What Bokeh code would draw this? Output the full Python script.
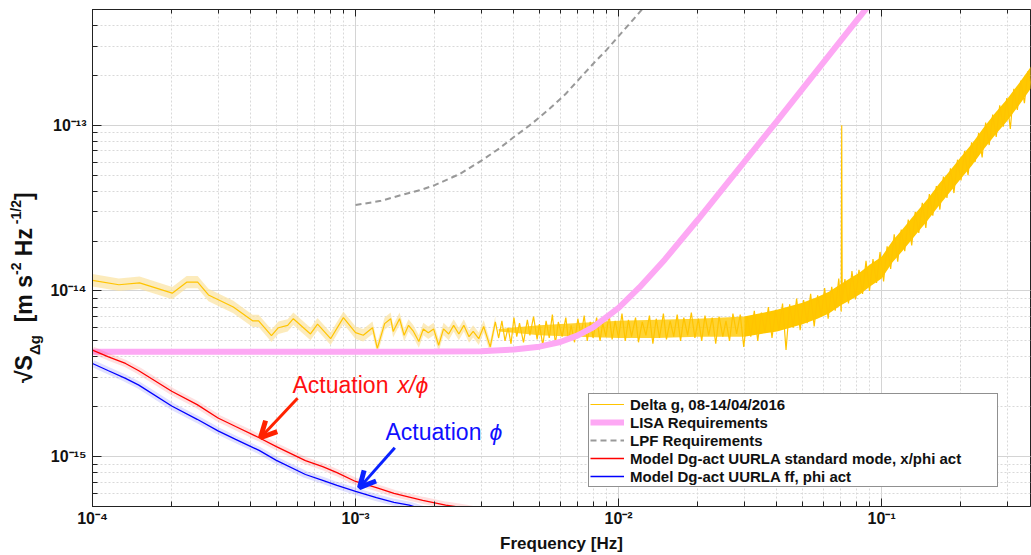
import numpy as np
from bokeh.plotting import figure
from bokeh.layouts import row
from bokeh.models import (FixedTicker, LogAxis, Label, Arrow, OpenHead, Legend, Div,
                          LegendItem, Range1d, CustomJSTickFormatter)
from bokeh.embed import file_html
from bokeh.resources import INLINE

FONT = "Liberation Sans"

# ---------------- data ----------------
# Delta g ASD: frequency in mHz, value in 1e-15 m s^-2 Hz^-1/2
dg_f_mHz = [0.100, 0.126, 0.151, 0.201, 0.228, 0.251, 0.276, 0.343, 0.406, 0.428,
            0.479, 0.509, 0.552, 0.580, 0.674, 0.717, 0.804, 0.899, 1.00, 1.07,
            1.16, 1.21, 1.29, 1.36, 1.39, 1.47, 1.53, 1.59, 1.66, 1.74,
            1.81, 1.89, 1.98, 2.07, 2.16, 2.26, 2.36, 2.47, 2.58, 2.70,
            2.80, 2.94, 3.07, 3.25, 3.40,
            3.5, 3.6, 3.7, 3.8, 3.9, 4.0, 4.1, 4.2, 4.35, 4.5,
            4.6, 4.75, 4.9, 5.0, 5.15, 5.3, 5.45, 5.6, 5.75, 5.9,
            6.1, 6.3, 6.45, 6.6, 6.8, 7.0, 7.2, 7.4, 7.6, 7.8,
            8.0, 8.25, 8.5, 8.7, 8.95, 9.2, 9.45, 9.7, 10.0, 10.3,
            10.6, 10.9, 11.2, 11.6, 11.9, 12.3, 12.7, 13.1, 13.5, 13.9,
            14.3, 14.8, 15.2, 15.7, 16.2, 16.7, 17.2, 17.7, 18.3, 18.9,
            19.5, 20.1, 20.7, 21.3, 22.0, 22.7, 23.4, 24.1, 24.9, 25.6,
            26.4, 27.2, 28.1, 29.0, 29.9, 30.8, 31.8, 32.8, 33.8, 34.9,
            36.0, 37.1, 38.3, 39.5, 40.7, 42.0, 43.3, 44.7, 46.1, 47.5,
            49.0, 50.5, 52.1, 53.7, 55.4, 57.1, 58.9, 60.7, 62.6, 64.6,
            66.6, 68.7, 70.2, 70.5, 70.8, 72.5, 74.8, 77.1, 79.5, 82.0,
            84.6, 87.2, 89.9, 92.7, 95.6, 98.6, 101.7, 104.9, 108.2, 111.6,
            115.1, 118.7, 122.4, 126.2, 130.1, 134.2, 138.4, 142.7, 147.2, 151.8,
            156.5, 161.4, 166.5, 171.7, 177.1, 182.6, 188.3, 194.2, 200.3, 206.6,
            213.0, 219.7, 226.6, 233.7, 241.0, 248.5, 256.3, 264.3, 272.6, 281.1,
            289.9, 299.0, 308.4, 318.0, 328.0, 338.3, 348.9, 359.8, 371.0]
dg_val = [11.6, 10.9, 11.2, 9.7, 11.3, 11.3, 9.46, 8.0, 6.6, 6.6,
          5.37, 6.0, 6.2, 6.8, 5.5, 6.3, 5.15, 6.9, 5.6, 5.4,
          6.0, 4.5, 6.35, 6.8, 5.7, 6.8, 5.4, 6.2, 5.7, 4.95,
          5.9, 5.6, 5.9, 4.7, 5.9, 5.5, 6.2, 5.5, 6.2, 5.3,
          5.7, 5.15, 6.1, 4.6, 6.5,
          5.2, 6.6, 5.0, 6.0, 4.8, 6.9, 5.3, 6.4, 4.9, 6.7,
          5.4, 7.0, 5.1, 6.3, 4.7, 6.6, 5.2, 7.2, 4.8, 6.5,
          5.3, 6.9, 5.0, 6.2, 4.9, 6.8, 5.4, 7.1, 5.0, 6.5,
          5.2, 6.9, 5.0, 6.4, 5.3, 7.2, 5.1, 6.6, 5.2, 7.3,
          5.0, 6.7, 5.3, 6.9, 4.9, 6.5, 5.4, 7.1, 4.8, 6.8,
          5.2, 7.3, 5.1, 6.6, 5.3, 7.2, 5.0, 6.9, 5.4, 7.4,
          5.2, 6.8, 5.0, 7.1, 5.4, 6.9, 4.8, 7.0, 5.3, 6.6,
          5.0, 7.3, 5.5, 7.2, 4.6, 7.0, 5.3, 7.6, 5.0, 7.4,
          5.6, 8.0, 5.2, 7.7, 5.8, 8.4, 4.4, 8.3, 6.0, 9.0,
          5.8, 8.8, 6.4, 9.6, 6.1, 9.4, 7.0, 10.4, 6.8, 10.6,
          7.6, 11.9, 7.5, 100.0, 8.6, 11.8, 8.4, 13.2, 8.9, 13.4,
          9.6, 15.2, 10.0, 15.6, 11.2, 17.2, 11.4, 18.6, 13.6, 22.0,
          15.0, 23.5, 17.4, 27.0, 18.8, 30.0, 22.4, 34.0, 24.0, 38.5,
          28.5, 43.0, 31.0, 49.0, 36.5, 55.0, 39.0, 62.0, 46.5, 70.0,
          50.0, 79.0, 60.0, 90.0, 64.0, 104.0, 76.0, 116.0, 85.0, 132.0,
          98.0, 146.0, 95.0, 166.0, 124.0, 186.0, 136.0, 212.0, 172.0]

# envelope of the dense noise band (mHz, 1e-15)
env_f_mHz = [3.5, 5, 7, 10, 14, 20, 30, 40, 50, 57, 63, 70, 77, 83, 90, 100,
             110, 120, 137, 150, 165, 183, 200, 220, 244, 270, 300, 335, 372]
env_lo = [5.7, 5.4, 5.3, 5.2, 5.2, 5.3, 5.3, 5.7, 6.3, 6.8, 7.3, 8.2, 8.9, 9.6, 10.6, 11.9,
          14.9, 17.4, 22.5, 26.8, 32.7, 40.0, 47.6, 57.0, 71.4, 87.5, 106.0, 134.0, 170.0]
env_hi = [5.9, 6.2, 6.4, 6.6, 6.7, 6.8, 7.0, 7.7, 8.5, 9.2, 9.9, 11.0, 12.1, 13.0, 14.4, 16.1,
          20.1, 23.6, 30.5, 36.2, 44.3, 54.0, 64.4, 77.0, 96.6, 118.5, 144.0, 182.0, 230.0]

# LISA requirements (Hz, 1e-15)
lisa_f = [1e-4, 1e-3, 2e-3, 3e-3, 4e-3, 5e-3, 6e-3, 7e-3, 8e-3, 1e-2, 1.2e-2, 1.5e-2,
          2e-2, 3e-2, 4e-2, 6e-2, 8e-2, 1e-1]
lisa_val = [4.3, 4.3, 4.31, 4.33, 4.43, 4.61, 4.92, 5.39, 6.04, 7.9, 10.5, 15.5,
            26.9, 59.9, 106.0, 239.0, 425.0, 660.0]

# LPF requirements (Hz, 1e-14)
lpf_f = [1e-3, 1.25e-3, 1.5e-3, 1.75e-3, 2e-3, 2.5e-3, 3e-3, 3.5e-3, 4e-3, 4.67e-3,
         5.5e-3, 6.3e-3, 7.16e-3, 8.2e-3, 9e-3, 1e-2, 1.1e-2, 1.2e-2, 1.3e-2]
lpf_val = [3.3, 3.5, 3.8, 4.05, 4.35, 5.1, 6.1, 7.2, 8.5, 10.2,
           12.7, 15.5, 19.4, 24.5, 28.5, 34.5, 41.0, 48.0, 56.0]

# Actuation models (Hz, 1e-15)
model_f = [1e-4, 1.15e-4, 1.335e-4, 1.5e-4, 2e-4, 2.5e-4, 3e-4, 3.5e-4, 4.3e-4, 5e-4,
           6.45e-4, 7.5e-4, 8.5e-4, 1e-3, 1.2e-3, 1.4e-3, 1.6e-3, 1.8e-3, 2.2e-3, 2.6e-3, 3e-3]
red_val = [4.4, 4.0, 3.65, 3.3, 2.48, 2.06, 1.71, 1.52, 1.30, 1.15,
           0.946, 0.87, 0.80, 0.708, 0.65, 0.60, 0.57, 0.545, 0.51, 0.49, 0.47]
blue_val = [3.65, 3.3, 2.97, 2.7, 2.02, 1.68, 1.43, 1.27, 1.09, 0.95,
            0.78, 0.72, 0.67, 0.617, 0.565, 0.53, 0.51, 0.48, 0.45, 0.43, 0.41]

x_major = [1e-4, 1e-3, 1e-2, 1e-1]
x_labels = ["10\u207b\u2074", "10\u207b\u00b3", "10\u207b\u00b2", "10\u207b\u00b9"]
y_major = [1e-15, 1e-14, 1e-13]
y_labels = ["10\u207b\u00b9\u2075", "10\u207b\u00b9\u2074", "10\u207b\u00b9\u00b3"]
x_minor = [m * d for d in [1e-4, 1e-3, 1e-2, 1e-1] for m in range(1, 10)]
y_minor = [m * d for d in [1e-16, 1e-15, 1e-14, 1e-13] for m in range(1, 10)]

legend_labels = ["Delta g, 08-14/04/2016", "LISA Requirements", "LPF Requirements",
                 "Model Dg-act UURLA standard mode, x/phi act", "Model Dg-act UURLA ff, phi act"]

LEFT_W = 34          # width of the html column holding the rotated y label
FRAME_LEFT = 92      # frame left edge in the page

# ---------------- figure ----------------
p = figure(width=1031 - LEFT_W, height=555, x_axis_type="log", y_axis_type="log",
           x_range=Range1d(1e-4, 0.368), y_range=Range1d(5e-16, 5e-13),
           output_backend="svg", toolbar_location=None,
           min_border_left=FRAME_LEFT - LEFT_W, min_border_right=1, min_border_top=9,
           min_border_bottom=46, margin=0)
p.outline_line_color = "#222222"
p.outline_line_width = 1
p.background_fill_color = "white"
p.border_fill_alpha = 0

xt = FixedTicker(ticks=x_major, minor_ticks=x_minor)
yt = FixedTicker(ticks=y_major, minor_ticks=y_minor)


def fmt(tks, lbls):
    return CustomJSTickFormatter(args=dict(tks=tks, lbls=lbls), code="""
        let best = 0, bd = Infinity;
        for (let i = 0; i < tks.length; i++) {
            const d = Math.abs(Math.log10(tick) - Math.log10(tks[i]));
            if (d < bd) { bd = d; best = i; }
        }
        return lbls[best];
    """)


xa = p.xaxis[0]
xa.ticker = xt
xa.formatter = fmt(x_major, x_labels)
ya = p.yaxis[0]
ya.ticker = yt
ya.formatter = fmt(y_major, y_labels)
for ax in (xa, ya):
    ax.major_label_text_font = FONT
    ax.major_label_text_font_style = "bold"
    ax.major_label_text_font_size = "16px"
    ax.major_label_text_color = "#111111"
    ax.axis_line_color = "#222222"
    ax.major_tick_line_color = "#222222"
    ax.minor_tick_line_color = "#222222"
    ax.major_tick_out = 0
    ax.minor_tick_out = 0
xa.major_tick_in = 8
xa.minor_tick_in = 5
ya.major_tick_in = 9
ya.minor_tick_in = 5
xa.major_label_standoff = 3
ya.major_label_standoff = 6
xa.axis_label = "Frequency [Hz]"
xa.axis_label_text_font = FONT
xa.axis_label_text_font_style = "bold"
xa.axis_label_text_font_size = "17px"
xa.axis_label_text_color = "#111111"
xa.axis_label_standoff = 4

top = LogAxis(ticker=FixedTicker(ticks=x_major, minor_ticks=x_minor),
              major_label_text_font_size="0px", major_label_text_alpha=0,
              major_label_standoff=0, major_tick_in=7, major_tick_out=0,
              minor_tick_in=4, minor_tick_out=0, axis_line_color="#222222",
              major_tick_line_color="#222222", minor_tick_line_color="#222222")
p.add_layout(top, "above")

for g, t in ((p.xgrid[0], xt), (p.ygrid[0], yt)):
    g.ticker = t
    g.grid_line_color = "#d4d4d4"
    g.grid_line_width = 1
    g.minor_grid_line_color = "#d9d9d9"
    g.minor_grid_line_dash = "2 2"
    g.minor_grid_line_width = 1

# ---------------- glyphs ----------------
dg_f = np.array(dg_f_mHz) * 1e-3
dg_v = np.array(dg_val) * 1e-15
low = dg_f <= 3.4e-3
band_factor = 1.09
p.varea(x=dg_f[low], y1=dg_v[low] / band_factor, y2=dg_v[low] * band_factor,
        fill_color="#FBE3A0", fill_alpha=0.7)

ef = np.array(env_f_mHz) * 1e-3
elo = np.array(env_lo) * 1e-15
ehi = np.array(env_hi) * 1e-15
m1 = ef <= 30e-3
m2 = ef >= 30e-3
p.varea(x=ef[m1], y1=elo[m1], y2=ehi[m1], fill_color="#FFC800", fill_alpha=0.8)
p.varea(x=ef[m2], y1=elo[m2], y2=ehi[m2], fill_color="#FFC800", fill_alpha=1.0)
r_dg = p.line(dg_f, dg_v, line_color="#FFC400", line_width=1.2)

r_lisa = p.line(lisa_f, np.array(lisa_val) * 1e-15, line_color="#FDA8F4", line_width=6)
r_lpf = p.line(lpf_f, np.array(lpf_val) * 1e-14, line_color="#999999", line_width=2,
               line_dash="6 4")

red_v = np.array(red_val) * 1e-15
blue_v = np.array(blue_val) * 1e-15
p.line(model_f, red_v, line_color="#FF3030", line_width=7, line_alpha=0.15)
p.line(model_f, blue_v, line_color="#3030FF", line_width=7, line_alpha=0.15)
r_red = p.line(model_f, red_v, line_color="#FF0000", line_width=1.3)
r_blue = p.line(model_f, blue_v, line_color="#0000FF", line_width=1.3)

# ---------------- annotations ----------------
RED_TXT = (5.76e-4, 2.70e-15)
BLUE_TXT = (1.30e-3, 1.41e-15)
RED_ARROW = ((6.02e-4, 2.25e-15), (4.35e-4, 1.30e-15))
BLUE_ARROW = ((1.41e-3, 1.13e-15), (1.035e-3, 6.5e-16))

p.add_layout(Label(x=RED_TXT[0], y=RED_TXT[1], text="Actuation ", text_color="#FF1010",
                   text_font=FONT, text_font_size="23px", text_baseline="alphabetic"))
p.add_layout(Label(x=RED_TXT[0], y=RED_TXT[1], x_offset=105, text="x/\u03d5", text_color="#FF1010",
                   text_font=FONT, text_font_size="23px", text_font_style="italic",
                   text_baseline="alphabetic"))
p.add_layout(Label(x=BLUE_TXT[0], y=BLUE_TXT[1], text="Actuation ", text_color="#1010FF",
                   text_font=FONT, text_font_size="23px", text_baseline="alphabetic"))
p.add_layout(Label(x=BLUE_TXT[0], y=BLUE_TXT[1], x_offset=104, text="\u03d5", text_color="#1010FF",
                   text_font=FONT, text_font_size="23px", text_font_style="italic",
                   text_baseline="alphabetic"))

for (s, e), col in ((RED_ARROW, "#FF2200"), (BLUE_ARROW, "#0A22FF")):
    p.add_layout(Arrow(x_start=s[0], y_start=s[1], x_end=e[0], y_end=e[1],
                       line_color=col, line_width=3,
                       end=OpenHead(size=16, line_color=col, line_width=5)))

# ---------------- legend ----------------
legend = Legend(items=[LegendItem(label=legend_labels[0], renderers=[r_dg]),
                       LegendItem(label=legend_labels[1], renderers=[r_lisa]),
                       LegendItem(label=legend_labels[2], renderers=[r_lpf]),
                       LegendItem(label=legend_labels[3], renderers=[r_red]),
                       LegendItem(label=legend_labels[4], renderers=[r_blue])],
                location=(496, 19), margin=0, padding=1, spacing=0,
                glyph_width=34, glyph_height=18, label_height=18, label_width=366,
                label_standoff=6, label_text_font=FONT, label_text_font_style="bold",
                label_text_font_size="15px", label_text_color="#111111",
                border_line_color="#222222", border_line_width=1,
                background_fill_color="white", background_fill_alpha=1)
p.add_layout(legend)

# ---------------- rotated y-axis label (HTML text) ----------------
YLABEL_MAIN = "\u221aS"
YLABEL_SUB = "\u0394g"
YLABEL_UNITS = ["[m s", "-2", " Hz", " -1/2", "]"]
sup = "font-size:14px; vertical-align:11px; line-height:0;"
sub = "font-size:15px; vertical-align:-8px; line-height:0;"
ylabel_html = (
    '<div style="position:absolute; left:13px; top:383px; transform:rotate(-90deg); '
    'transform-origin:0 0; white-space:nowrap; font-family:\'Liberation Sans\', Arial, sans-serif; '
    'font-weight:bold; font-size:23px; line-height:23px; color:#111111;">'
    f'{YLABEL_MAIN}<span style="{sub}">{YLABEL_SUB}</span>&nbsp;&nbsp;{YLABEL_UNITS[0]}'
    f'<span style="{sup}">{YLABEL_UNITS[1]}</span>{YLABEL_UNITS[2]}'
    f'<span style="{sup}">{YLABEL_UNITS[3]}</span>{YLABEL_UNITS[4]}</div>')
ydiv = Div(text=ylabel_html, width=LEFT_W, height=555, margin=0,
           styles={"overflow": "visible"})

layout = row(ydiv, p, spacing=0)
open("out.html", "w").write(file_html(layout, INLINE))
